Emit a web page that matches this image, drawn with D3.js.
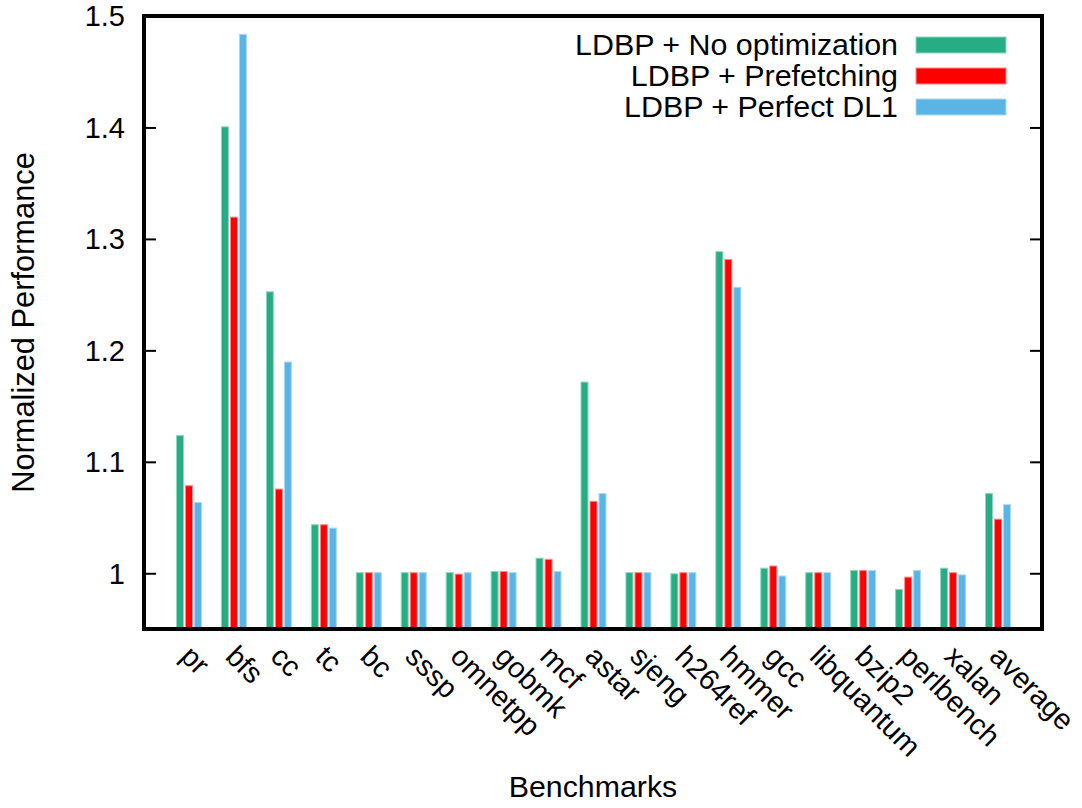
<!DOCTYPE html>
<html>
<head>
<meta charset="utf-8">
<script src="https://cdn.jsdelivr.net/npm/d3@7"></script>
<style>
  html, body { margin: 0; padding: 0; background: #fff; }
  svg text { font-family: "Liberation Sans", Arial, Helvetica, sans-serif; fill: #000; }
</style>
</head>
<body>
<svg id="chart" width="1082" height="808"></svg>
<script>
// Benchmarks on the x axis
const categories = ["pr", "bfs", "cc", "tc", "bc", "sssp", "omnetpp", "gobmk", "mcf", "astar",
  "sjeng", "h264ref", "hmmer", "gcc", "libquantum", "bzip2", "perlbench", "xalan", "average"];

// Normalized performance per configuration
const noOptimization = [1.124, 1.401, 1.253, 1.044, 1.001, 1.001, 1.001, 1.002, 1.014, 1.172,
  1.001, 1.000, 1.289, 1.005, 1.001, 1.003, 0.986, 1.005, 1.072];
const prefetching = [1.079, 1.320, 1.076, 1.044, 1.001, 1.001, 0.9997, 1.002, 1.013, 1.065,
  1.001, 1.001, 1.282, 1.007, 1.001, 1.003, 0.997, 1.001, 1.049];
const perfectDL1 = [1.064, 1.484, 1.190, 1.041, 1.001, 1.001, 1.001, 1.001, 1.002, 1.072,
  1.001, 1.001, 1.257, 0.998, 1.001, 1.003, 1.003, 0.999, 1.062];

const seriesNames = ["LDBP + No optimization", "LDBP + Prefetching", "LDBP + Perfect DL1"];
const seriesColors = ["#27ad83", "#ff0000", "#5ab5e6"];
const seriesEdges = ["#8ed6bf", "#ff8a8a", "#abd9f3"];
const yTicks = [1, 1.1, 1.2, 1.3, 1.4, 1.5];
const yDomain = [0.95, 1.5];

const series = [noOptimization, prefetching, perfectDL1];

const svg = d3.select("#chart");
const frame = { left: 144, right: 1042, top: 16, bottom: 629 };

const x = d3.scaleLinear().domain([0, categories.length - 1]).range([189, 998]);
const y = d3.scaleLinear().domain(yDomain).range([frame.bottom, frame.top]);
const barOffset = d3.scaleLinear().domain([0, 2]).range([-9, 9]);
const barW = 8;

// Bars
series.forEach((vals, s) => {
  svg.append("g").selectAll("rect")
    .data(vals)
    .join("rect")
    .attr("x", (d, i) => x(i) + barOffset(s) - barW / 2 + 0.5)
    .attr("y", d => y(d) + 0.5)
    .attr("width", barW - 1)
    .attr("height", d => y(yDomain[0]) - y(d))
    .attr("fill", seriesColors[s])
    .attr("stroke", seriesEdges[s])
    .attr("stroke-width", 1);
});

// Y ticks on both sides, pointing inward
const tickLen = 12;
const leftAxis = d3.axisRight(y).tickValues(yTicks).tickSize(tickLen).tickFormat("");
const rightAxis = d3.axisLeft(y).tickValues(yTicks).tickSize(tickLen).tickFormat("");
const gl = svg.append("g").attr("transform", `translate(${frame.left},0)`).call(leftAxis);
const gr = svg.append("g").attr("transform", `translate(${frame.right},0)`).call(rightAxis);
[gl, gr].forEach(g => {
  g.select(".domain").remove();
  g.selectAll("line").attr("stroke", "#000").attr("stroke-width", 2);
});

// Y tick labels
svg.append("g").selectAll("text")
  .data(yTicks)
  .join("text")
  .attr("x", 125)
  .attr("y", d => y(d))
  .attr("dy", "0.36em")
  .attr("text-anchor", "end")
  .attr("font-size", 29)
  .text(d => d3.format("~g")(d));

// Frame
svg.append("rect")
  .attr("x", frame.left).attr("y", frame.top)
  .attr("width", frame.right - frame.left)
  .attr("height", frame.bottom - frame.top)
  .attr("fill", "none").attr("stroke", "#000").attr("stroke-width", 4);

// X tick labels, rotated
svg.append("g").selectAll("text")
  .data(categories)
  .join("text")
  .attr("transform", (d, i) => `translate(${x(i) - 10},658) rotate(45)`)
  .attr("text-anchor", "start")
  .attr("font-size", 29)
  .text(d => d);

// Axis titles
svg.append("text")
  .attr("transform", `translate(34,${(frame.top + frame.bottom) / 2}) rotate(-90)`)
  .attr("text-anchor", "middle")
  .attr("font-size", 30.8)
  .text("Normalized Performance");

svg.append("text")
  .attr("x", (frame.left + frame.right) / 2)
  .attr("y", 797)
  .attr("text-anchor", "middle")
  .attr("font-size", 30.3)
  .text("Benchmarks");

// Legend
const legend = svg.append("g");
seriesNames.forEach((name, s) => {
  const cy = 45 + s * 31;
  legend.append("text")
    .attr("x", 898).attr("y", cy + 10)
    .attr("text-anchor", "end")
    .attr("font-size", 30.4)
    .text(name);
  legend.append("rect")
    .attr("x", 916).attr("y", cy - 8)
    .attr("width", 90).attr("height", 16)
    .attr("fill", seriesColors[s])
    .attr("stroke", seriesEdges[s]).attr("stroke-width", 1);
});
</script>
</body>
</html>
